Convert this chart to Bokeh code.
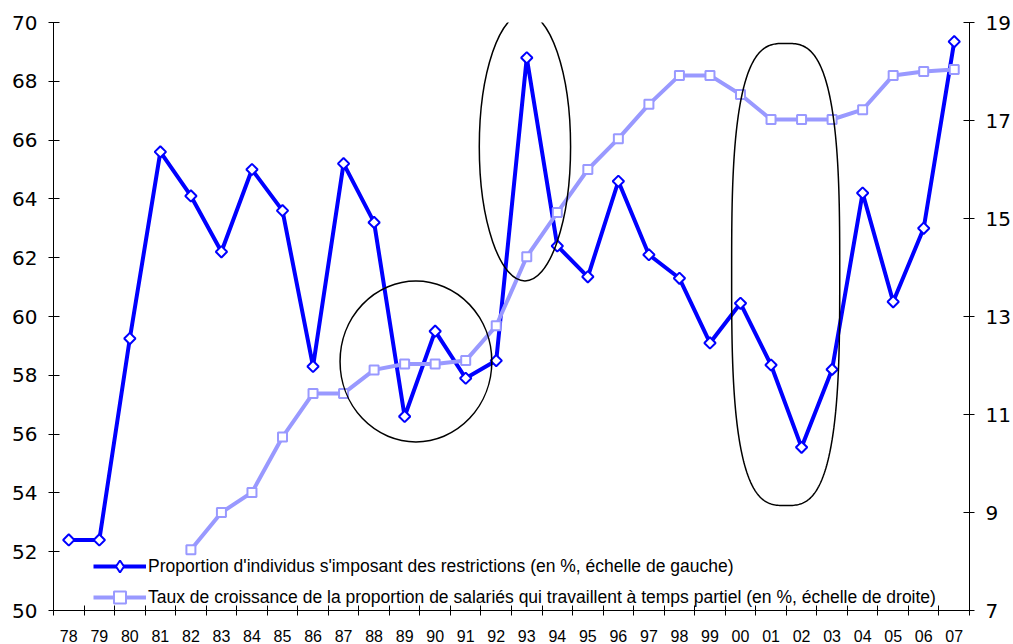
import numpy as np
from bokeh.plotting import figure
from bokeh.models import Range1d, LinearAxis, FixedTicker, Legend, LegendItem
from bokeh.embed import file_html
from bokeh.resources import INLINE

nan = float("nan")

years = ["78", "79", "80", "81", "82", "83", "84", "85", "86", "87",
         "88", "89", "90", "91", "92", "93", "94", "95", "96", "97",
         "98", "99", "00", "01", "02", "03", "04", "05", "06", "07"]

restrictions = [52.4, 52.4, 59.25, 65.6, 64.1, 62.2, 65.0, 63.6, 58.3, 65.2,
                63.2, 56.6, 59.5, 57.9, 58.5, 68.8, 62.4, 61.35, 64.6, 62.1,
                61.3, 59.1, 60.45, 58.35, 55.55, 58.2, 64.2, 60.5, 63.0, 69.35]

part_time = [nan, nan, nan, nan, 8.24, 9.0, 9.41, 10.54, 11.43, 11.43,
             11.91, 12.03, 12.03, 12.1, 12.81, 14.22, 15.12, 16.0, 16.63, 17.33,
             17.92, 17.92, 17.53, 17.02, 17.02, 17.02, 17.22, 17.92, 18.0, 18.04]

left_ticks = [50, 52, 54, 56, 58, 60, 62, 64, 66, 68, 70]
right_ticks = [7, 9, 11, 13, 15, 17, 19]

label_1 = "Proportion d'individus s'imposant des restrictions (en %, échelle de gauche)"
label_2 = "Taux de croissance de la proportion de salariés qui travaillent à temps partiel (en %, échelle de droite)"

x = list(range(len(years)))

p = figure(width=1013, height=644,
           x_range=Range1d(-0.5, len(years) - 0.5),
           y_range=Range1d(left_ticks[0], left_ticks[-1]),
           output_backend="svg", toolbar_location=None,
           min_border_left=53, min_border_right=43,
           min_border_top=22, min_border_bottom=33)
p.extra_y_ranges = {"right": Range1d(right_ticks[0], right_ticks[-1])}
p.grid.visible = False
p.outline_line_color = None
p.background_fill_color = "white"
p.border_fill_color = "white"

# x axis: labels at category centres, ticks between categories
xa = p.xaxis[0]
xa.ticker = FixedTicker(ticks=x, minor_ticks=[i - 0.5 for i in range(len(years) + 1)])
xa.major_label_overrides = {i: y for i, y in enumerate(years)}
xa.major_tick_in = 0
xa.major_tick_out = 0
xa.minor_tick_in = 5
xa.minor_tick_out = 5
xa.minor_tick_line_color = "black"
xa.axis_line_color = "black"
xa.major_label_standoff = 14
xa.major_label_text_font = "Liberation Sans"
xa.major_label_text_font_size = "16px"
xa.major_label_text_color = "black"

ya = p.yaxis[0]
ya.ticker = FixedTicker(ticks=left_ticks)
ya.major_tick_in = 6
ya.major_tick_out = 5
ya.minor_tick_line_color = None
ya.axis_line_color = "black"
ya.major_tick_line_color = "black"
ya.major_label_standoff = 11
ya.major_label_text_font = "DejaVu Sans"
ya.major_label_text_font_size = "20px"
ya.major_label_text_color = "black"

ra = LinearAxis(y_range_name="right", ticker=FixedTicker(ticks=right_ticks))
ra.major_tick_in = 6
ra.major_tick_out = 5
ra.minor_tick_line_color = None
ra.axis_line_color = "black"
ra.major_tick_line_color = "black"
ra.major_label_standoff = 11
ra.major_label_text_font = "DejaVu Sans"
ra.major_label_text_font_size = "20px"
ra.major_label_text_color = "black"
p.add_layout(ra, "right")

blue = "#0000FF"
lilac = "#9999FF"

blue_line = p.line(x, restrictions, line_color=blue, line_width=4)
p.scatter(x, restrictions, marker="square", angle=np.pi / 4, size=8,
          fill_color="white", line_color=blue, line_width=2)
# legend-only marker (legend glyphs are drawn unrotated)
blue_key = p.scatter(x, restrictions, marker="diamond", size=12,
                     fill_color="white", line_color=blue, line_width=2, visible=False)

lilac_line = p.line(x, part_time, y_range_name="right", line_color=lilac, line_width=4)
lilac_marks = p.scatter(x, part_time, y_range_name="right", marker="square", size=9,
                        fill_color="white", line_color=lilac, line_width=2)

# annotation shapes (hand-drawn highlight rings)
ring_x = [11.37, 14.94]
ring_y = [58.47, 65.77]
ring_w = [4.97, 2.99]
ring_h = [5.47, 9.12]
p.ellipse(x=ring_x, y=ring_y, width=ring_w, height=ring_h,
          fill_color=None, line_color="black", line_width=1.5)

cx, cy, a, b, n = 23.48, 61.43, 1.77, 7.86, 3.0
t = np.linspace(0, 2 * np.pi, 400)
ct, st = np.cos(t), np.sin(t)
sx = cx + a * np.sign(ct) * np.abs(ct) ** (2 / n)
sy = cy + b * np.sign(st) * np.abs(st) ** (2 / n)
p.line(sx, sy, line_color="black", line_width=1.5)

lg = Legend(items=[LegendItem(label=label_1, renderers=[blue_line, blue_key]),
                   LegendItem(label=label_2, renderers=[lilac_line, lilac_marks])])
lg.location = (40, -2)
lg.margin = 0
lg.padding = 0
lg.spacing = 1
lg.glyph_width = 53
lg.glyph_height = 30
lg.label_height = 20
lg.label_standoff = 2
lg.border_line_color = None
lg.background_fill_alpha = 0
lg.label_text_font = "Liberation Sans"
lg.label_text_font_size = "17.5px"
lg.label_text_color = "black"
p.add_layout(lg, "center")

open("out.html", "w").write(file_html(p, INLINE))
